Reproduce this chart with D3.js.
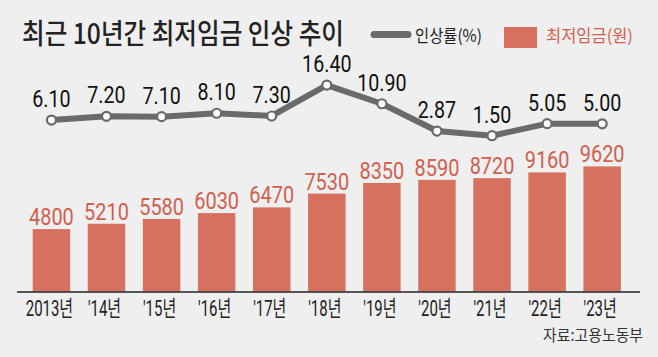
<!DOCTYPE html>
<html><head><meta charset="utf-8">
<script src="https://cdn.jsdelivr.net/npm/d3@7"></script>
<style>
html,body{margin:0;padding:0;background:#efefef;}
svg{display:block;}
</style></head>
<body>
<svg id="chart" width="658" height="357"></svg>
<script>
const years = ["2013년","'14년","'15년","'16년","'17년","'18년","'19년","'20년","'21년","'22년","'23년"];
const wages = [4800,5210,5580,6030,6470,7530,8350,8590,8720,9160,9620];
const rates = [6.10,7.20,7.10,8.10,7.30,16.40,10.90,2.87,1.50,5.05,5.00];
const rateLabels = ["6.10","7.20","7.10","8.10","7.30","16.40","10.90","2.87","1.50","5.05","5.00"];
const titleText = "최근 10년간 최저임금 인상 추이";
const legendRate = "인상률(%)";
const legendWage = "최저임금(원)";
const sourceText = "자료:고용노동부";

const FONT = "Roboto, 'Noto Sans CJK KR', sans-serif";
const KFONT = "'Noto Sans CJK KR', sans-serif";
const svg = d3.select("#chart");
svg.append("rect").attr("width",658).attr("height",357).attr("fill","#efefef");

const x = d3.scaleBand().domain(years).range([32.7, 620.9]).paddingInner(0.32).paddingOuter(0);
const yBar = d3.scaleLinear().domain([0,10000]).range([291.5,161.5]);
const yLine = d3.scaleLinear().domain([0,20]).range([140.8,72.8]);

// horizontal condensing via a scale transform around the text anchor point
function condense(sel, f, targetWidth){
  sel.each(function(){
    const s = d3.select(this);
    const tx = +s.attr("x") || 0, ty = +s.attr("y") || 0;
    const k = targetWidth ? targetWidth / this.getComputedTextLength() : f;
    s.attr("x",0).attr("y",0).attr("transform",`translate(${tx},${ty}) scale(${k},1)`);
  });
}

// bars
svg.append("g").selectAll("rect").data(wages).join("rect")
  .attr("x",(d,i)=>x(years[i]))
  .attr("y",d=>yBar(d))
  .attr("width",x.bandwidth())
  .attr("height",d=>yBar(0)-yBar(d))
  .attr("fill","#d6705f");

// bar labels
const bl = svg.append("g").selectAll("text").data(wages).join("text")
  .attr("x",(d,i)=>x(years[i])+x.bandwidth()/2)
  .attr("y",d=>yBar(d)-4)
  .attr("text-anchor","middle")
  .attr("font-family",FONT).attr("font-size",24)
  .attr("fill","#d0604f")
  .text(d=>d);
condense(bl,0.83);

// x axis
const xAxis = d3.axisBottom(x).tickSize(0).tickPadding(9);
const ax = svg.append("g").attr("transform",`translate(0,${yBar(0)})`).call(xAxis);
ax.select(".domain").remove();
ax.selectAll("text").attr("font-family",FONT).attr("font-size",22).attr("fill","#222").attr("dy","0.71em")
  .attr("x",-2);
condense(ax.selectAll("text"),0.68);
svg.append("line").attr("x1",17).attr("x2",640).attr("y1",yBar(0)+0.5).attr("y2",yBar(0)+0.5)
  .attr("stroke","#222").attr("stroke-width",1.5);

// line
const line = d3.line().x((d,i)=>x(years[i])+x.bandwidth()/2).y(d=>yLine(d));
svg.append("path").datum(rates).attr("d",line).attr("fill","none")
  .attr("stroke","#6a6a6a").attr("stroke-width",6).attr("stroke-linejoin","round");
svg.append("g").selectAll("circle").data(rates).join("circle")
  .attr("cx",(d,i)=>x(years[i])+x.bandwidth()/2)
  .attr("cy",d=>yLine(d))
  .attr("r",4.5).attr("fill","#fff").attr("stroke","#6a6a6a").attr("stroke-width",2.2);
const ll = svg.append("g").selectAll("text").data(rates).join("text")
  .attr("x",(d,i)=>x(years[i])+x.bandwidth()/2)
  .attr("y",d=>yLine(d)-13)
  .attr("text-anchor","middle")
  .attr("font-family",FONT).attr("font-size",24).attr("fill","#111")
  .text((d,i)=>rateLabels[i]);
condense(ll,0.82);

// title
const t = svg.append("text").attr("x",22).attr("y",44)
  .attr("font-family",KFONT).attr("font-size",28).attr("font-weight",500)
  .attr("fill","#222").text(titleText);
condense(t,null,322);

// legend
svg.append("line").attr("x1",374).attr("x2",408).attr("y1",34.5).attr("y2",34.5)
  .attr("stroke","#6a6a6a").attr("stroke-width",7).attr("stroke-linecap","round");
const lt1 = svg.append("text").attr("x",415).attr("y",41.5)
  .attr("font-family",KFONT).attr("font-size",17).attr("fill","#222").text(legendRate);
condense(lt1,null,67);
svg.append("rect").attr("x",504).attr("y",27).attr("width",33).attr("height",21).attr("fill","#d6705f");
const lt2 = svg.append("text").attr("x",546).attr("y",41.5)
  .attr("font-family",KFONT).attr("font-size",17).attr("fill","#d0604f").text(legendWage);
condense(lt2,null,87);

// source
const src = svg.append("text").attr("x",643).attr("y",341).attr("text-anchor","end")
  .attr("font-family",KFONT).attr("font-size",16).attr("fill","#333").text(sourceText);
condense(src,null,100);
</script>
</body></html>
